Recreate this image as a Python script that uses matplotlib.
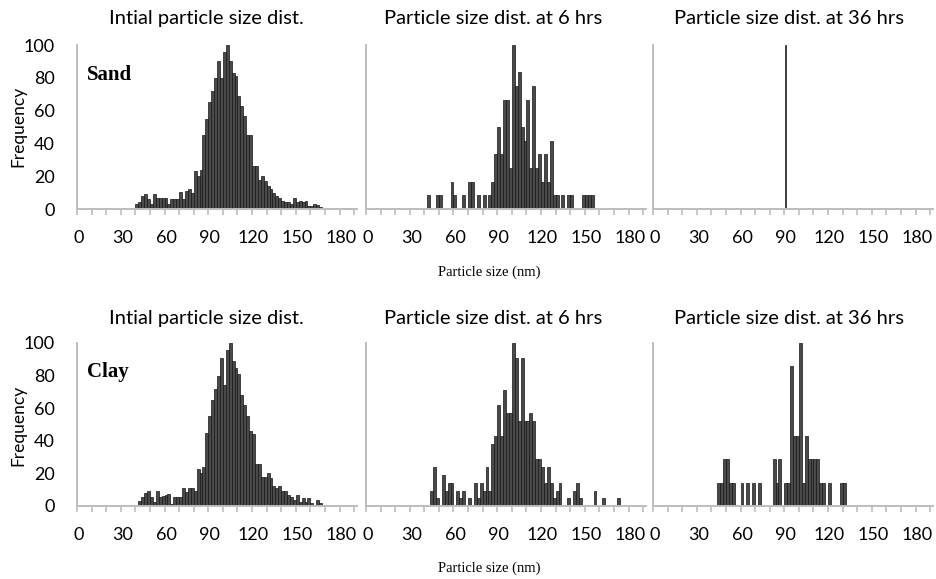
"""Particle size distributions of sand and clay at 0, 6 and 36 hrs."""

import matplotlib
matplotlib.use("Agg")
import matplotlib.pyplot as plt  # type: ignore
from matplotlib.ticker import FixedLocator  # type: ignore

# size classes are 2 nm wide, 0 .. 190 nm
BIN_WIDTH = 2
SIZE_MIN = 0
SIZE_MAX = 190

# dense series: first size class + frequencies of consecutive classes
sand_initial_start = 40
sand_initial = [3, 4, 8, 9, 6, 3, 9, 6.5, 6.5, 7, 7, 3, 6, 6, 6, 10.5, 6, 11, 12, 10,
                23, 20, 24, 45, 55, 65, 72, 80, 90, 80, 96, 100, 90, 83, 81, 69, 63,
                57, 45, 45, 26, 26, 18, 20, 17, 14, 12, 10, 8, 6.5, 5, 4.5, 4, 3, 6.5,
                4, 5, 4, 5, 2, 2, 3, 2.5, 1, 0, 0, 0, 0.8, 0.8, 0, 0, 0.8, 0.8, 0.8]

clay_initial_start = 42
clay_initial = [3, 5.3, 8, 9, 5.7, 2.7, 9, 5.7, 6.3, 6.7, 7.4, 1.2, 5.7, 5.7, 5.7, 10.8,
                8.8, 11.2, 11, 9, 22.5, 20, 24, 45, 55, 65, 72, 80, 90.6, 74, 96, 100,
                89, 84.5, 81, 68, 62, 55, 46, 44, 26, 26, 18, 18, 20, 17, 12, 11, 12,
                9, 9, 6.7, 5.7, 3.7, 6.7, 2.7, 4.7, 2.7, 4.7, 2, 0.6, 3.7, 2, 0.6,
                0, 0, 0, 0, 0, 0.8, 0, 0.8, 0.8, 0.8]

# sparse series: size class (nm) and frequency
sand_6h_size = [42, 48, 50, 58, 60, 66, 70, 72, 76, 80, 84, 86, 88, 90, 92, 94, 96, 98,
                100, 102, 104, 106, 108, 110, 112, 114, 116, 118, 120, 122, 124, 126,
                128, 130, 134, 138, 140, 148, 150, 152, 154]
sand_6h_freq = [8.3, 8.3, 8.3, 16.7, 8.3, 8.3, 16.7, 16.7, 8.3, 8.3, 8.3, 16.7, 33.3,
                50, 33.3, 66.7, 66.7, 25, 100, 75, 83.3, 50, 41.7, 66.7, 25, 75, 25,
                33.3, 16.7, 33.3, 16.7, 41.7, 8.3, 8.3, 8.3, 8.3, 8.3, 8.3, 8.3, 8.3, 8.3]

sand_36h_size = [90]
sand_36h_freq = [100]

clay_6h_size = [44, 46, 48, 52, 54, 56, 58, 62, 64, 66, 70, 74, 76, 78, 80, 82, 84, 86,
                88, 90, 92, 94, 96, 98, 100, 102, 104, 106, 108, 110, 112, 114, 116,
                118, 120, 122, 124, 126, 128, 130, 132, 138, 142, 144, 146, 156, 162, 172]
clay_6h_freq = [9.5, 23.8, 4.8, 19, 9.5, 14.3, 14.3, 9.5, 4.8, 9.5, 4.8, 14.3, 4.8, 14.3,
                9.5, 23.8, 9.5, 38.1, 42.9, 61.9, 42.9, 71.4, 57.1, 57.1, 100, 90.5,
                52.4, 90.5, 52.4, 52.4, 57.1, 52.4, 28.6, 28.6, 23.8, 14.3, 23.8, 14.3,
                4.8, 9.5, 14.3, 4.8, 9.5, 14.3, 4.8, 9.5, 4.8, 4.8]

clay_36h_size = [44, 46, 48, 50, 52, 54, 60, 64, 68, 72, 82, 84, 86, 90, 92, 94, 96, 98,
                 100, 102, 104, 106, 108, 110, 112, 114, 116, 120, 128, 130]
clay_36h_freq = [14.3, 14.3, 28.6, 28.6, 14.3, 14.3, 14.3, 14.3, 14.3, 14.3, 28.6, 14.3,
                 28.6, 14.3, 14.3, 85.7, 42.9, 42.9, 100, 14.3, 42.9, 28.6, 28.6, 28.6,
                 28.6, 14.3, 14.3, 14.3, 14.3, 14.3]

panel_titles = ["Intial particle size dist.", "Particle size dist. at 6 hrs",
                "Particle size dist. at 36 hrs"]
row_labels = ["Sand", "Clay"]
x_ticks = [0, 30, 60, 90, 120, 150, 180]
y_ticks = [0, 20, 40, 60, 80, 100]

BAR_COLOR = "#4a4a4a"
EDGE_COLOR = "#161616"
AXIS_COLOR = "#bdbdbd"
SANS = ["Lato", "DejaVu Sans"]
SERIF = ["Liberation Serif", "DejaVu Serif"]


def dense_sizes(start: int, values: list) -> list:
    """Size classes for a run of consecutive bins."""
    return [start + BIN_WIDTH * i for i in range(len(values))]


def style_axes(ax, first_col: bool) -> None:
    """Excel-like category axis look."""
    ax.set_xlim(SIZE_MIN - BIN_WIDTH / 2, SIZE_MAX + BIN_WIDTH / 2)
    ax.set_ylim(0, 100)
    for side in ("top", "right"):
        ax.spines[side].set_visible(False)
    for side in ("left", "bottom"):
        ax.spines[side].set_color(AXIS_COLOR)
        ax.spines[side].set_linewidth(1.4)
    ax.xaxis.set_major_locator(FixedLocator(x_ticks))
    # tick marks sit between categories, every 5 classes
    edges = [SIZE_MIN - BIN_WIDTH / 2 + 5 * BIN_WIDTH * k for k in range(20)]
    ax.xaxis.set_minor_locator(FixedLocator(edges))
    ax.tick_params(axis="x", which="major", length=0, pad=15, labelsize=13)
    ax.tick_params(axis="x", which="minor", length=4, width=1.2,
                   color=AXIS_COLOR, direction="out")
    ax.set_yticks(y_ticks)
    ax.tick_params(axis="y", length=0, pad=16, labelsize=13,
                   labelleft=first_col)
    for lab in ax.get_xticklabels() + ax.get_yticklabels():
        lab.set_family(SANS)


def main() -> None:
    fig = plt.figure(figsize=(9.36, 5.79), dpi=100)

    rows = [
        [(dense_sizes(sand_initial_start, sand_initial), sand_initial, 2.0),
         (sand_6h_size, sand_6h_freq, 2.0),
         (sand_36h_size, sand_36h_freq, 0.8)],
        [(dense_sizes(clay_initial_start, clay_initial), clay_initial, 2.0),
         (clay_6h_size, clay_6h_freq, 2.0),
         (clay_36h_size, clay_36h_freq, 2.0)],
    ]

    lefts = [0.0823, 0.3910, 0.6977]
    width = 0.2992
    bottoms = [0.6390, 0.1261]
    heights = [0.2832, 0.2815]
    title_x = [0.220, 0.527, 0.843]
    title_y = [0.968, 0.450]
    xlabel_y = [0.530, 0.019]
    ylabel_y = [0.781, 0.266]

    for r, row in enumerate(rows):
        for c, (sizes, freqs, w) in enumerate(row):
            ax = fig.add_axes([lefts[c], bottoms[r], width, heights[r]])
            ax.bar(sizes, freqs, width=w, color=BAR_COLOR, edgecolor=EDGE_COLOR,
                   linewidth=0.5, zorder=2)
            style_axes(ax, c == 0)
            fig.text(title_x[c], title_y[r], panel_titles[c], ha="center",
                     va="center", fontsize=14.5, family=SANS)
            if c == 0:
                ax.text(0.035, 0.82, row_labels[r], transform=ax.transAxes,
                        fontsize=15, fontweight="bold", family=SERIF,
                        ha="left", va="center")
        fig.text(0.523, xlabel_y[r], "Particle size (nm)", ha="center",
                 va="center", fontsize=10.5, family=SERIF)
        fig.text(0.020, ylabel_y[r], "Frequency", ha="center", va="center",
                 rotation=90, fontsize=12.5, family=SANS)

    fig.savefig("out.png", dpi=100)
    plt.close(fig)


if __name__ == "__main__":
    main()
